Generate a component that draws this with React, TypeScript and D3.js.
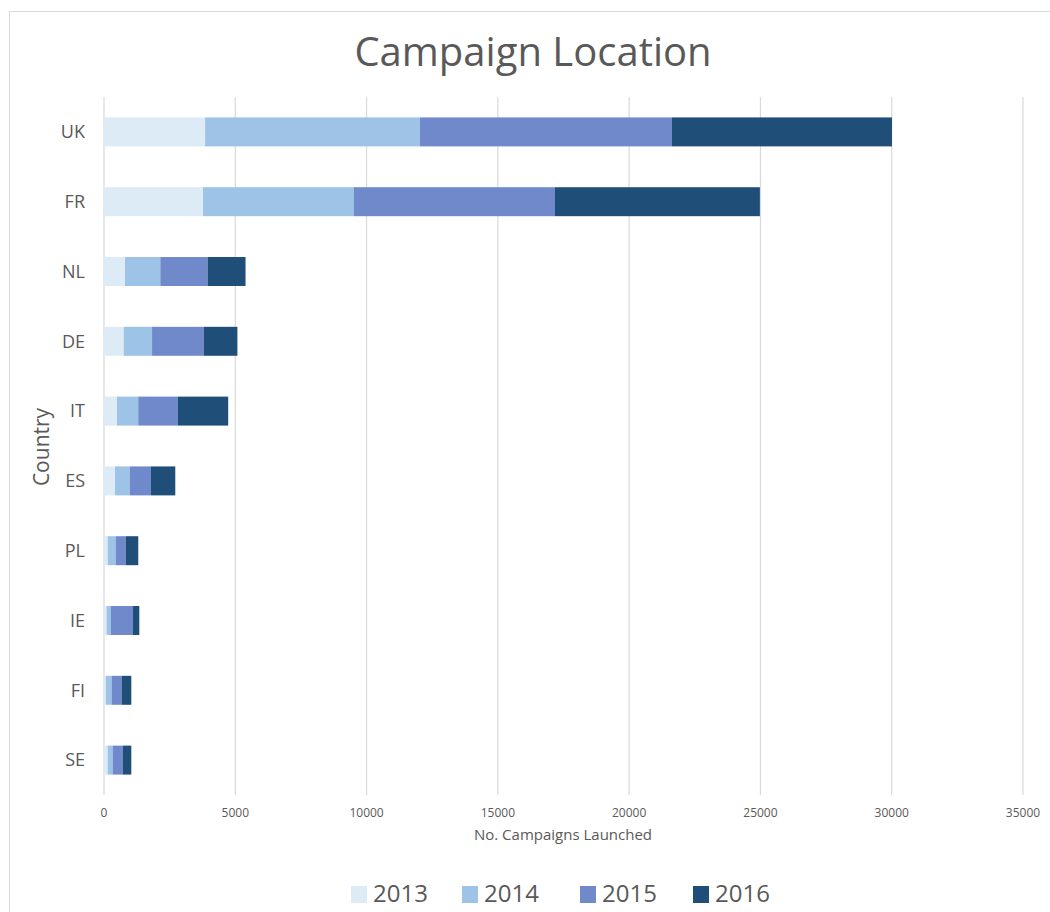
import React from "react";
import * as d3 from "d3";

const countries = ["UK", "FR", "NL", "DE", "IT", "ES", "PL", "IE", "FI", "SE"];
const years = ["2013", "2014", "2015", "2016"];
const v2013 = [3850, 3770, 800, 750, 495, 420, 140, 100, 70, 140];
const v2014 = [8180, 5750, 1345, 1080, 810, 560, 305, 155, 220, 190];
const v2015 = [9600, 7655, 1800, 1970, 1510, 810, 380, 850, 380, 390];
const v2016 = [8380, 7805, 1445, 1280, 1915, 925, 480, 240, 370, 320];
const xTicks = [0, 5000, 10000, 15000, 20000, 25000, 30000, 35000];
const colors = ["#DDEBF7", "#9DC3E6", "#6F89CB", "#1F4E79"];

export default function App() {
  const W = 1050, H = 912;
  const left = 104, right = 1023, top = 97, bottom = 795;
  const x = d3.scaleLinear().domain([0, 35000]).range([left, right]);
  const y = d3.scaleBand().domain(countries).range([top, bottom]).paddingInner(0.585).paddingOuter(0.2925);
  const rows = countries.map((c, i) => ({ c, "2013": v2013[i], "2014": v2014[i], "2015": v2015[i], "2016": v2016[i] }));
  const stack = d3.stack<any>().keys(years)(rows);
  const font = "'Open Sans', 'DejaVu Sans', sans-serif";
  const gray = "#595959";
  const legendX = [351, 462, 580, 693];
  return (
    <svg width={W} height={H} style={{ position: "absolute", left: 0, top: 0, background: "#fff" }} fontFamily={font}>
      <rect x={0} y={0} width={W} height={H} fill="#fff" />
      <rect x={9.5} y={11.5} width={1100} height={1000} fill="#fff" stroke="#D9D9D9" strokeWidth={1} />
      <text x={533} y={66} textAnchor="middle" fontSize={40} fill={gray}>Campaign Location</text>
      {xTicks.map((t) => (
        <g key={t}>
          <line x1={x(t)} x2={x(t)} y1={top} y2={bottom} stroke="#D9D9D9" strokeWidth={1.2} />
          <text x={x(t)} y={817} textAnchor="middle" fontSize={12} fill={gray}>{t}</text>
        </g>
      ))}
      {stack.map((s, k) => (
        <g key={years[k]} fill={colors[k]}>
          {s.map((d, i) => (
            <rect key={countries[i]} x={x(d[0])} y={y(countries[i])!} width={x(d[1]) - x(d[0])} height={y.bandwidth()} />
          ))}
        </g>
      ))}
      {countries.map((c) => (
        <text key={c} x={85} y={y(c)! + y.bandwidth() / 2} dy="0.35em" textAnchor="end" fontSize={18} fill={gray}>{c}</text>
      ))}
      <text transform="translate(49,447) rotate(-90)" textAnchor="middle" fontSize={21} fill={gray}>Country</text>
      <text x={563} y={840} textAnchor="middle" fontSize={15} fill={gray}>No. Campaigns Launched</text>
      {years.map((yr, k) => (
        <g key={yr}>
          <rect x={legendX[k]} y={886} width={16} height={17} fill={colors[k]} />
          <text x={legendX[k] + 22} y={902} fontSize={24} fill={gray}>{yr}</text>
        </g>
      ))}
    </svg>
  );
}
